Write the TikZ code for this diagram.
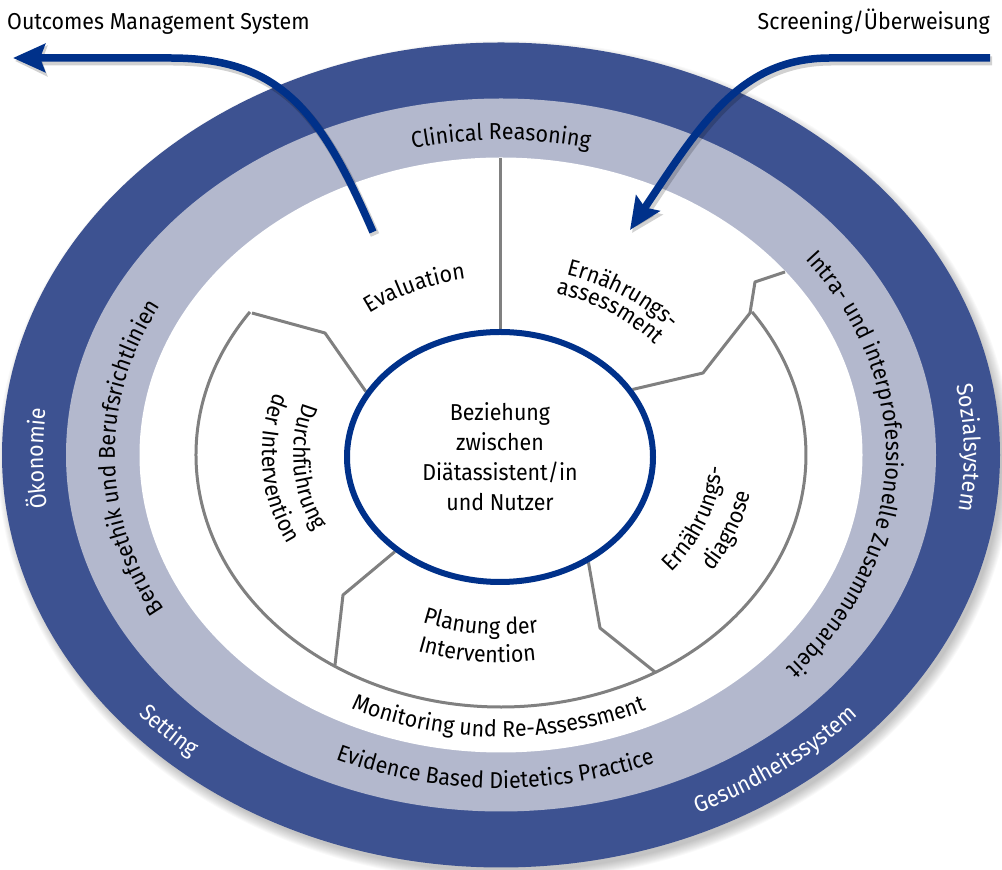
\documentclass[tikz,border=0pt]{standalone}
\usepackage{fontspec}
\setmainfont{Fira Sans}[FakeStretch=0.93]
\usetikzlibrary{decorations.text,arrows.meta,shapes.geometric}
\definecolor{ringdark}{HTML}{3D5291}
\definecolor{ringlight}{HTML}{B3B8CD}
\definecolor{navy}{HTML}{00318A}
\definecolor{segline}{HTML}{808080}
\pgfdeclarelayer{rings}
\pgfdeclarelayer{seglines}
\pgfsetlayers{rings,seglines,main}

\newcommand\lblfont{\fontsize{23}{30}\selectfont}
% text set along an elliptical arc around (C): x radius, y radius, start, end, colour, text
\newcommand\ringtext[6]{%
  \path[decorate,decoration={text along path,text align=center,text color=#5,
      text={|\lblfont|#6}}]
    (C) ++(#3:#1 and #2) arc[start angle=#3,end angle=#4,x radius=#1,y radius=#2];}

\tikzset{
  segment/.style={draw=segline,line width=3,line join=round},
  flow/.style={draw=navy,line width=7.5,-{Stealth[length=32,width=28,inset=5]}},
  flowshadow/.style={draw=black,opacity=0.18,line width=9,-{Stealth[length=32,width=30,inset=5]}},
}

\begin{document}
\begin{tikzpicture}[x=1pt,y=1pt]
\useasboundingbox (0,0) rectangle (1002,870);
\coordinate (C) at (501,415);

% rings with a soft drop shadow
\begin{pgfonlayer}{rings}
  \foreach \k in {0,...,10}
    \fill[black,opacity=0.022] (505,409) ellipse[x radius=497+\k,y radius=410.5+\k];
  \fill[ringdark]  (C) ellipse[x radius=499,y radius=412.5];
  \fill[ringlight] (C) ellipse[x radius=435,y radius=356.5];
  \fill[white]     (C) ellipse[x radius=361.5,y radius=297.5];
\end{pgfonlayer}

% centre
\node[ellipse,draw=navy,line width=6,fill=white,minimum width=306,minimum height=250,
      inner sep=0,align=center,font=\lblfont] (core) at (500,413)
  {Beziehung\\zwischen\\Diätassistent/in\\und Nutzer};

% segment borders
\coordinate (topEnd) at (500,712);
\coordinate (ur1) at (703,497);
\coordinate (ur2) at (750,557);
\coordinate (ur3) at (755,588);
\coordinate (urEnd) at (785,598);
\coordinate (ul1) at (325,537);
\coordinate (ulEnd) at (252,557);
\coordinate (lr1) at (600,242);
\coordinate (lrEnd) at (655,198);
\coordinate (ll1) at (343,275);
\coordinate (llEnd) at (335,205);
\begin{pgfonlayer}{seglines}
  \draw[segment] (C) ++(145.4:305 and 252) arc[start angle=145.4,end angle=394.6,x radius=305,y radius=252];
  \draw[segment] (core.north) -- (topEnd);
  \draw[segment] (core.27) -- (ur1) -- (ur2) -- (ur3) -- (urEnd);
  \draw[segment] (core.154) -- (ul1) -- (ulEnd);
  \draw[segment] (core.-50) -- (lr1) -- (lrEnd);
  \draw[segment] (core.222) -- (ll1) -- (llEnd);
\end{pgfonlayer}

% outer ring
\ringtext{458}{376}{220}{141}{white}{Ökonomie}
\ringtext{463}{381}{40}{-38}{white}{Sozialsystem}
\ringtext{480}{396}{194}{254}{white}{Setting}
\ringtext{477}{393}{-91.7}{-11.7}{white}{Gesundheitssystem}

% middle ring
\ringtext{383.6}{315.2}{130}{50}{black}{Clinical Reasoning}
\ringtext{385}{318}{70.5}{-74.5}{black}{Intra- und interprofessionelle Zusammenarbeit}
\ringtext{386}{317}{250}{111}{black}{Berufsethik und Berufsrichtlinien}
\ringtext{405.6}{333}{199}{339}{black}{Evidence Based Dietetics Practice}

% process steps
\ringtext{342}{282}{205}{334}{black}{Monitoring und Re-Assessment}
\ringtext{216.8}{178.3}{154.7}{74.7}{black}{Evaluation}
\ringtext{228}{188}{96}{16}{black}{Ernährungs-}
\ringtext{204}{168}{96}{16}{black}{assessment}
\ringtext{222}{183}{-70}{30}{black}{Ernährungs-}
\ringtext{254}{209}{-70}{30}{black}{diagnose}
\ringtext{218}{179.6}{224}{304}{black}{Planung der}
\ringtext{252}{207.7}{224}{304}{black}{Intervention}
\ringtext{207.7}{170.7}{139}{229}{black}{Durchführung}
\ringtext{239}{197}{139}{229}{black}{der Intervention}

% inputs and outputs
\node[anchor=base west,inner sep=0,font=\lblfont] (oms) at (7,840) {Outcomes Management System};
\node[anchor=base east,inner sep=0,font=\lblfont] (scr) at (990,840) {Screening/Überweisung};

\coordinate (omsStart) at (373,638);
\coordinate (omsBend) at (170,812);
\coordinate (omsTip) at (13,812);
\coordinate (scrStart) at (990,812);
\coordinate (scrBend) at (830,812);
\coordinate (scrTip) at (630,640);

\draw[flowshadow,transform canvas={shift={(2,-3)}}] (omsStart) .. controls (320,760) and (280,812) .. (omsBend) -- (omsTip);
\draw[flowshadow,transform canvas={shift={(2,-3)}}] (scrStart) -- (scrBend) .. controls (740,812) and (700,745) .. (scrTip);
\draw[flow] (omsStart) .. controls (320,760) and (280,812) .. (omsBend) -- (omsTip);
\draw[flow] (scrStart) -- (scrBend) .. controls (740,812) and (700,745) .. (scrTip);
\end{tikzpicture}
\end{document}
